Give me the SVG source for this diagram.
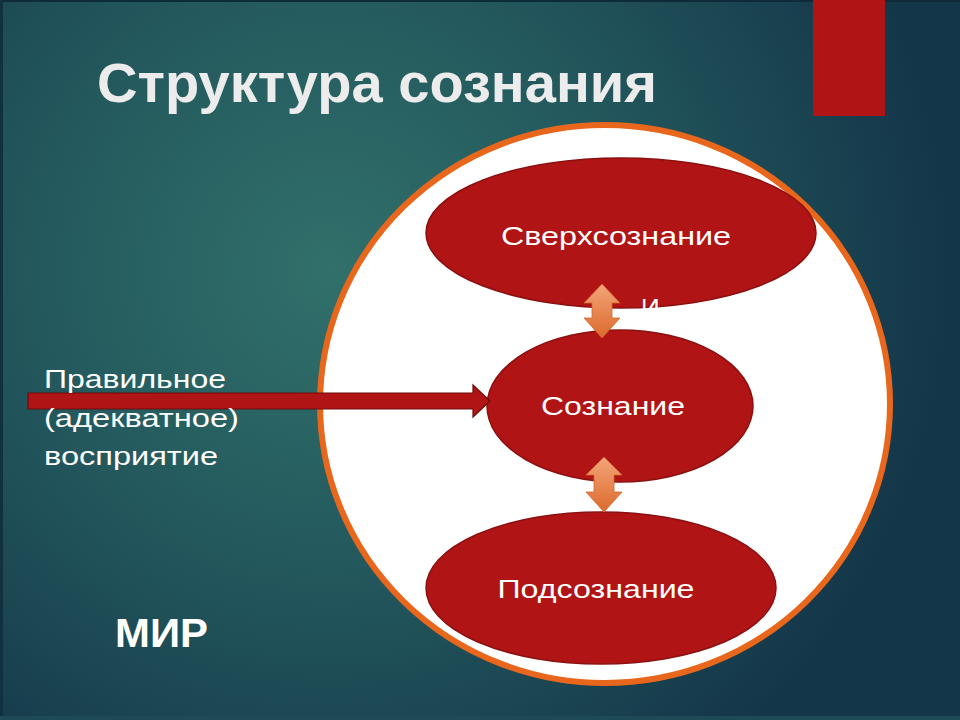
<svg xmlns="http://www.w3.org/2000/svg" width="960" height="720" viewBox="0 0 960 720">
  <defs>
    <radialGradient id="bg" cx="330" cy="270" r="620" gradientUnits="userSpaceOnUse">
      <stop offset="0" stop-color="#31706b"/>
      <stop offset="0.45" stop-color="#245a5e"/>
      <stop offset="1" stop-color="#143649"/>
    </radialGradient>
    <linearGradient id="dbl" x1="0" y1="0" x2="0" y2="1">
      <stop offset="0" stop-color="#f2a57a"/>
      <stop offset="1" stop-color="#dc6a2c"/>
    </linearGradient>
    <style>
      .node { fill: #b01414; stroke: #8c1010; stroke-width: 1.5; }
      .lbl { font-family: "Liberation Sans", Arial, sans-serif; fill: #ffffff; font-size: 26px; text-anchor: middle; }
      .side { font-family: "Liberation Sans", Arial, sans-serif; fill: #ffffff; font-size: 26px; }
      .dbl { fill: url(#dbl); stroke: #d4682a; stroke-width: 0.8; }
    </style>
  </defs>

  <rect x="0" y="0" width="960" height="720" fill="url(#bg)"/>
  <rect x="0" y="0" width="960" height="2" fill="#0f2a38"/>
  <rect x="0" y="0" width="3" height="720" fill="#12313f"/>
  <rect x="0" y="716" width="960" height="4" fill="#1d4a55"/>

  <rect id="accent" x="813" y="0" width="72" height="116" fill="#b01414"/>

  <text id="title" x="97" y="102" font-family="'Liberation Sans', Arial, sans-serif" font-weight="bold" font-size="55" fill="#ececec" textLength="560" lengthAdjust="spacingAndGlyphs">Структура сознания</text>

  <g id="world">
    <ellipse cx="605" cy="404" rx="285" ry="279" fill="#ffffff" stroke="#e8671c" stroke-width="6"/>
  </g>

  <g id="superconscious">
    <ellipse class="node" cx="621" cy="233" rx="195" ry="75"/>
    <text class="lbl" x="616" y="245" textLength="230" lengthAdjust="spacingAndGlyphs">Сверхсознание</text>
  </g>

  <text x="641" y="317" font-family="'Liberation Sans', Arial, sans-serif" font-size="26" fill="#ffffff">И</text>

  <g id="conscious">
    <ellipse class="node" cx="620" cy="406" rx="133" ry="76"/>
    <text class="lbl" x="613" y="415" textLength="144" lengthAdjust="spacingAndGlyphs">Сознание</text>
  </g>

  <g id="subconscious">
    <ellipse class="node" cx="601" cy="588" rx="175" ry="76"/>
    <text class="lbl" x="596" y="598" textLength="197" lengthAdjust="spacingAndGlyphs">Подсознание</text>
  </g>

  <g id="connectors">
    <path class="dbl" d="M602,284 L620,303 L612,303 L612,318 L620,318 L602,338 L584,318 L592,318 L592,303 L584,303 Z"/>
    <path class="dbl" d="M604,457 L622,475 L614,475 L614,492 L622,492 L604,512 L586,492 L594,492 L594,475 L586,475 Z"/>
    <path d="M28,393 L473,393 L473,385 L490,401 L473,417 L473,409 L28,409 Z" fill="#b01414" stroke="#6e0c0c" stroke-width="1.2"/>
  </g>

  <g id="perception">
    <text class="side" x="44" y="388" textLength="182" lengthAdjust="spacingAndGlyphs">Правильное</text>
    <text class="side" x="44" y="427" textLength="195" lengthAdjust="spacingAndGlyphs">(адекватное)</text>
    <text class="side" x="44" y="465" textLength="174" lengthAdjust="spacingAndGlyphs">восприятие</text>
  </g>

  <text id="mir" x="115" y="647" font-family="'Liberation Sans', Arial, sans-serif" font-weight="bold" font-size="40" fill="#ffffff" textLength="93" lengthAdjust="spacingAndGlyphs">МИР</text>
</svg>
